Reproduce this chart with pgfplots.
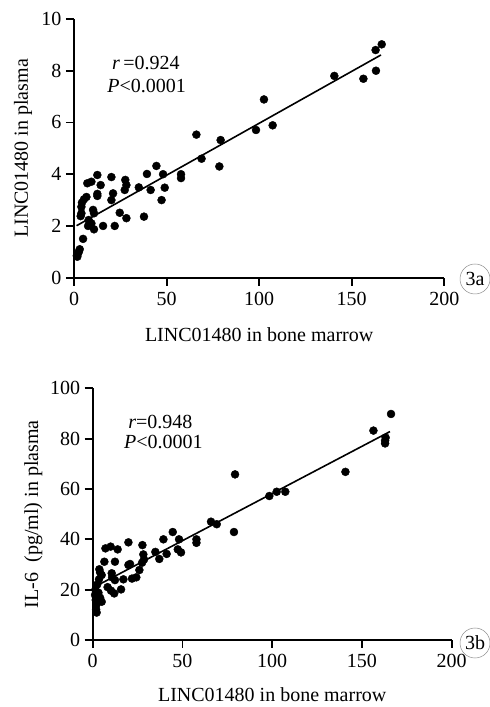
\documentclass[border=0pt]{standalone}
\usepackage{fontspec}
\setmainfont{Liberation Serif}
\usepackage{pgfplots}
\pgfplotsset{compat=1.18}
\newcommand{\bigf}{\fontsize{20}{23}\selectfont}
\pgfplotsset{
  myax/.style={
    scale only axis,
    axis lines=left,
    axis line style={-, line width=2.2pt},
    every tick/.style={black, line width=1.9pt},
    tick align=outside,
    major tick length=8pt,
    xmin=0, xmax=200,
    xtick={0,50,100,150,200},
    ymin=0,
    enlargelimits=false,
    clip=false,
    tick label style={font=\bigf},
    label style={font=\bigf},
    /pgf/number format/assume math mode=true,
    xticklabel style={yshift=-3pt},
    yticklabel style={xshift=-1pt},
  },
}
\begin{document}
\begin{tikzpicture}
\path[use as bounding box] (0,0) rectangle (490pt,707pt);
% ---------- 3a ----------
\begin{axis}[myax,
  at={(74pt,429.3pt)}, anchor=south west,
  width=370.3pt, height=258.7pt,
  ymax=10, ytick={0,2,4,6,8,10},
  xlabel={LINC01480 in bone marrow},
  ylabel={LINC01480 in plasma},
  xlabel style={at={(axis description cs:0.5,-0.2203)}, anchor=center},
  ylabel style={at={(axis description cs:-0.1377,0.5)}, anchor=center},
]
\addplot[only marks, mark=*, mark size=4pt, black] table {
x y
166.2 9.02
162.9 8.80
163.1 8.00
156.3 7.69
140.6 7.80
102.6 6.89
107.3 5.89
98.3 5.71
66.1 5.53
79.2 5.32
68.9 4.60
78.5 4.30
57.8 4.00
57.8 3.85
44.5 4.32
48.1 4.00
49.0 3.48
47.3 3.00
39.4 4.01
41.4 3.39
35.0 3.49
37.8 2.36
27.7 3.78
28.3 3.58
27.4 3.39
28.3 2.30
24.7 2.51
22.0 2.00
20.2 3.89
21.1 3.26
20.2 3.00
15.7 2.00
12.6 3.97
14.4 3.58
12.6 3.24
12.6 3.16
9.4 3.71
7.2 3.65
5.4 3.03
6.7 3.12
4.3 2.90
4.0 2.74
4.0 2.49
3.6 2.38
10.3 2.62
10.8 2.49
7.9 2.23
9.4 2.10
7.6 2.00
10.8 1.87
4.9 1.50
3.1 1.10
2.6 1.00
2.2 0.94
1.8 0.81
1.5 0.85
};
\addplot[black, line width=1.6pt] coordinates {(1.4,2.01) (165.8,8.61)};
\node[anchor=west, font=\bigf, inner sep=0pt] at (axis cs:20.5,8.3) {\textit{r}\,=0.924};
\node[anchor=west, font=\bigf, inner sep=0pt] at (axis cs:17.9,7.41) {\textit{P}<0.0001};
\end{axis}
% ---------- 3b ----------
\begin{axis}[myax,
  at={(92.7pt,67pt)}, anchor=south west,
  width=359pt, height=251.7pt,
  ymax=100, ytick={0,20,40,60,80,100},
  xlabel={LINC01480 in bone marrow},
  ylabel={IL-6\enspace(pg/ml) in plasma},
  xlabel style={at={(axis description cs:0.5,-0.2185)}, anchor=center},
  ylabel style={at={(axis description cs:-0.165,0.5)}, anchor=center},
]
\addplot[only marks, mark=*, mark size=4pt, black] table {
x y
166.2 89.8
156.4 83.2
163.2 80.4
162.9 79.2
162.9 78.1
140.8 66.8
79.3 65.8
107.3 58.9
102.5 58.9
98.4 57.2
65.9 47.0
69.1 46.0
78.7 42.9
57.8 40.0
57.8 38.6
44.6 42.9
48.1 40.0
47.4 36.0
49.2 34.8
39.4 40.0
41.2 34.2
34.9 35.0
37.1 32.2
27.7 37.7
28.2 34.0
28.6 32.0
27.5 30.7
26.0 27.8
19.9 38.8
20.8 30.2
19.9 29.8
24.3 24.9
21.9 24.4
17.1 24.1
15.8 20.1
13.9 36.0
10.0 37.1
7.1 36.4
12.4 31.1
6.5 31.1
10.6 26.5
10.8 24.9
12.4 23.8
10.2 19.6
8.3 21.0
12.0 18.5
3.7 28.1
4.1 26.9
5.0 25.8
3.5 24.1
3.2 18.8
4.1 16.8
5.0 15.2
1.3 17.9
1.7 15.9
2.0 13.9
1.9 12.2
2.2 10.9
1.5 20.0
2.5 22.0
};
\addplot[black, line width=1.6pt] coordinates {(1.3,21.2) (165.6,82.8)};
\node[anchor=west, font=\bigf, inner sep=0pt] at (axis cs:19.7,86.6) {\textit{r}=0.948};
\node[anchor=west, font=\bigf, inner sep=0pt] at (axis cs:17.4,78.7) {\textit{P}<0.0001};
\end{axis}
% circled panel labels
\node[draw=black!45, line width=0.5pt, circle, minimum size=30pt, inner sep=0pt, font=\bigf] at (475pt,428pt) {3a};
\node[draw=black!45, line width=0.5pt, circle, minimum size=30pt, inner sep=0pt, font=\bigf] at (475pt,64pt) {3b};
\end{tikzpicture}
\end{document}
